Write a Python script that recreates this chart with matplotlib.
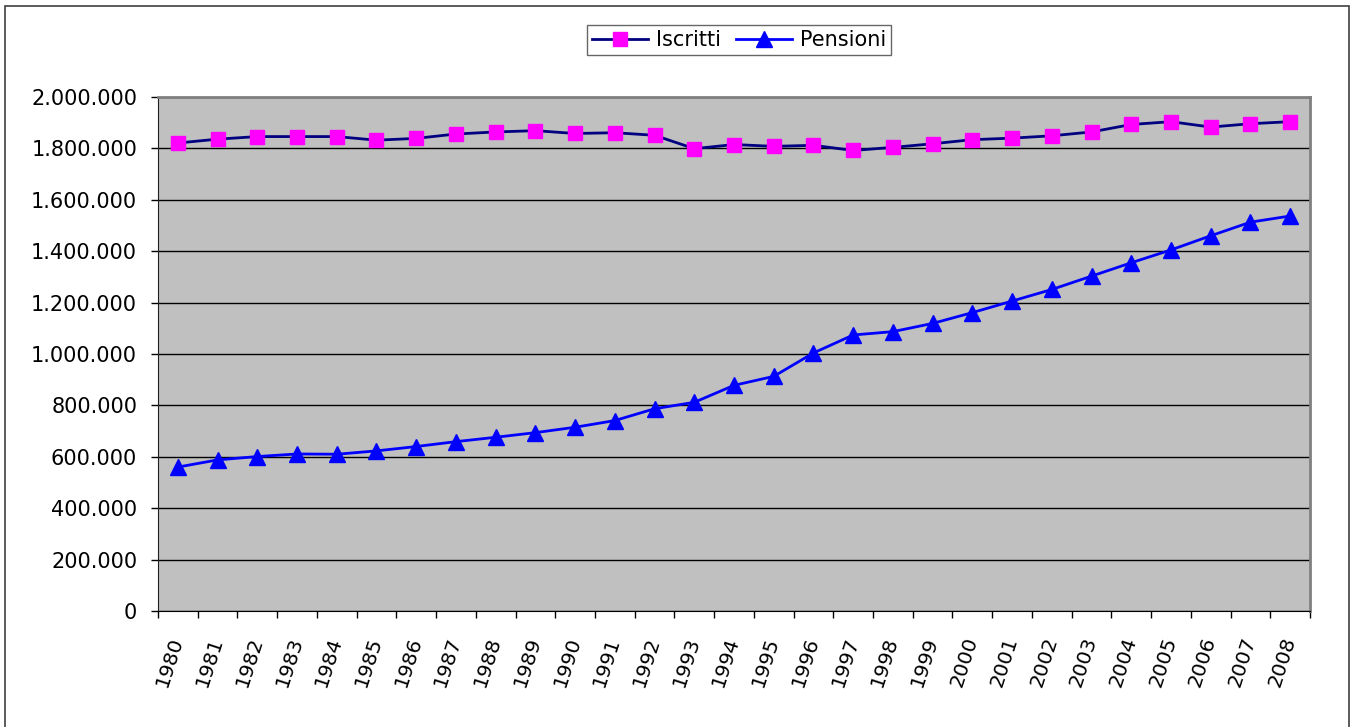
import matplotlib
matplotlib.use("Agg")
import matplotlib.pyplot as plt
import matplotlib.transforms as mtransforms
from matplotlib.ticker import FixedLocator, FuncFormatter
from matplotlib.patches import Rectangle

years = [str(y) for y in range(1980, 2009)]
iscritti = [1821000, 1836000, 1846000, 1846000, 1846000, 1832000, 1839000, 1856000,
            1864000, 1869000, 1858000, 1861000, 1851000, 1799000, 1815000, 1808000,
            1812000, 1792000, 1804000, 1818000, 1834000, 1840000, 1849000, 1864000,
            1893000, 1904000, 1883000, 1896000, 1904000]
pensioni = [560000, 588000, 601000, 611000, 610000, 623000, 640000, 659000,
            676000, 694000, 715000, 741000, 787000, 812000, 878000, 913000,
            1004000, 1074000, 1087000, 1119000, 1161000, 1206000, 1251000, 1303000,
            1355000, 1405000, 1460000, 1513000, 1537000]
yticks = list(range(0, 2000001, 200000))

W, H = 1353, 727
fig = plt.figure(figsize=(W / 100, H / 100), dpi=100)
plt.rcParams['font.family'] = ['DejaVu Sans']

# outer chart border
fig.patches.append(Rectangle((5 / W, -0.01), (1349 - 5) / W, (H - 6) / H + 0.01,
                             transform=fig.transFigure, fill=False,
                             edgecolor='#404040', linewidth=1.2))

ax = fig.add_axes([158 / W, 1 - 611 / H, (1310 - 158) / W, (611 - 97) / H])
ax.set_facecolor('#C0C0C0')
x = list(range(len(years)))

ax.plot(x, iscritti, color='#000080', linewidth=2.0, marker='s', markersize=10,
        markerfacecolor='#FF00FF', markeredgecolor='#FF00FF', label='Iscritti', zorder=3)
ax.plot(x, pensioni, color='#0000FF', linewidth=2.0, marker='^', markersize=11,
        markerfacecolor='#0000FF', markeredgecolor='#0000FF', label='Pensioni', zorder=3)

ax.set_xlim(-0.5, len(years) - 0.5)
ax.set_ylim(0, 2000000)
ax.yaxis.set_major_locator(FixedLocator(yticks))
ax.yaxis.set_major_formatter(FuncFormatter(lambda v, p: f"{int(v):,}".replace(",", ".")))
ax.grid(axis='y', color='black', linewidth=1.0)
ax.set_axisbelow(True)

ax.set_xticks(x)
ax.set_xticklabels(years, rotation=72, ha='center', va='top')
ax.set_xticks([i - 0.5 for i in range(len(years) + 1)], minor=True)
ax.tick_params(axis='x', which='major', length=0, pad=17, labelsize=14.5)
ax.tick_params(axis='x', which='minor', length=5, width=1, direction='out', color='black')
ax.tick_params(axis='y', length=5, width=1, direction='out', pad=10, labelsize=15)

offset = mtransforms.ScaledTranslation(-8 / 100, 0, fig.dpi_scale_trans)
for lab in ax.get_xticklabels():
    lab.set_transform(lab.get_transform() + offset)

for s in ['top', 'right']:
    ax.spines[s].set_color('#808080')
    ax.spines[s].set_linewidth(2)
ax.spines['left'].set_color('#202020')
ax.spines['bottom'].set_color('black')

leg = fig.legend(loc='center', bbox_to_anchor=(739 / W, 1 - 40 / H), ncol=2,
                 frameon=True, fancybox=False, fontsize=15, handlelength=2.7,
                 columnspacing=0.75, handletextpad=0.35, borderpad=0.22,
                 borderaxespad=0)
leg.get_frame().set_edgecolor('#404040')
leg.get_frame().set_linewidth(1.0)

fig.savefig('out.png', dpi=100)
